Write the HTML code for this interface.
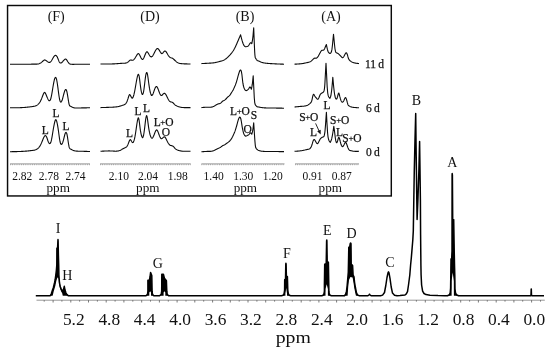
<!DOCTYPE html>
<html><head><meta charset="utf-8"><title>NMR spectrum</title>
<style>html,body{margin:0;padding:0;background:#fff}body{width:550px;height:351px;overflow:hidden}</style>
</head><body>
<svg width="550" height="351" viewBox="0 0 550 351" style="display:block;font-family:'Liberation Serif', 'DejaVu Serif', serif">
<rect width="550" height="351" fill="#fff"/>
<rect x="7.55" y="5.5" width="383.75" height="190.45" fill="none" stroke="#0a0a0a" stroke-width="1.45"/>
<path d="M10.00,64.30 L10.50,64.30 L11.00,64.30 L11.50,64.30 L12.00,64.30 L12.50,64.31 L13.00,64.31 L13.50,64.31 L14.00,64.31 L14.50,64.31 L15.00,64.31 L15.50,64.31 L16.00,64.31 L16.50,64.31 L17.00,64.31 L17.50,64.31 L18.00,64.31 L18.50,64.31 L19.00,64.31 L19.50,64.31 L20.00,64.31 L20.50,64.30 L21.00,64.30 L21.50,64.30 L22.00,64.30 L22.50,64.29 L23.00,64.29 L23.50,64.29 L24.00,64.28 L24.50,64.28 L25.00,64.27 L25.50,64.27 L26.00,64.26 L26.50,64.26 L27.00,64.25 L27.50,64.24 L28.00,64.24 L28.50,64.23 L29.00,64.22 L29.50,64.21 L30.00,64.20 L30.50,64.19 L31.00,64.18 L31.50,64.17 L32.00,64.16 L32.50,64.15 L33.00,64.14 L33.50,64.13 L34.00,64.12 L34.50,64.11 L35.00,64.11 L35.50,64.10 L36.00,64.10 L36.50,64.10 L37.00,64.09 L37.50,64.06 L38.00,64.01 L38.50,63.92 L39.00,63.79 L39.50,63.60 L40.00,63.35 L40.50,63.05 L41.00,62.70 L41.50,62.31 L42.00,61.90 L42.50,61.47 L43.00,61.03 L43.50,60.60 L44.00,60.21 L44.50,59.95 L44.80,59.90 L45.00,59.93 L45.50,60.15 L46.00,60.50 L46.50,60.87 L47.00,61.24 L47.50,61.60 L48.00,61.93 L48.50,62.20 L49.00,62.37 L49.50,62.40 L50.00,62.25 L50.50,61.92 L51.00,61.40 L51.30,61.00 L51.50,60.70 L52.00,59.84 L52.50,58.92 L53.00,58.00 L53.50,57.17 L54.00,56.46 L54.40,56.00 L54.50,55.90 L55.00,55.54 L55.50,55.40 L56.00,55.50 L56.50,55.88 L56.60,56.00 L57.00,56.59 L57.50,57.59 L58.00,58.80 L58.50,60.14 L59.00,61.38 L59.20,61.80 L59.50,62.30 L60.00,62.82 L60.40,63.00 L60.50,63.02 L61.00,62.97 L61.50,62.71 L62.00,62.30 L62.50,61.78 L63.00,61.19 L63.50,60.60 L64.00,60.05 L64.50,59.57 L64.70,59.40 L65.00,59.18 L65.50,59.00 L65.60,59.00 L66.00,59.17 L66.50,59.67 L66.60,59.80 L67.00,60.38 L67.50,61.19 L68.00,62.00 L68.50,62.73 L69.00,63.31 L69.20,63.50 L69.50,63.72 L70.00,63.96 L70.50,64.10 L71.00,64.20 L71.50,64.27 L72.00,64.32 L72.50,64.34 L73.00,64.35 L73.50,64.35 L74.00,64.34 L74.50,64.32 L75.00,64.30 L75.50,64.28 L76.00,64.27 L76.50,64.25 L77.00,64.24 L77.50,64.23 L78.00,64.22 L78.50,64.21 L79.00,64.20 L79.50,64.20 L80.00,64.19 L80.50,64.19 L81.00,64.19 L81.50,64.19 L82.00,64.19 L82.50,64.19 L83.00,64.19 L83.50,64.20 L84.00,64.20 L84.50,64.21 L85.00,64.21 L85.50,64.22 L86.00,64.23 L86.50,64.24 L87.00,64.24 L87.50,64.25 L88.00,64.26 L88.50,64.27 L89.00,64.28 L89.50,64.29 L90.00,64.30" fill="none" stroke="#0c0c0c" stroke-width="1.1" stroke-linejoin="round" stroke-linecap="butt"/>
<path d="M10.00,107.80 L10.50,107.80 L11.00,107.80 L11.50,107.80 L12.00,107.80 L12.50,107.80 L13.00,107.80 L13.50,107.80 L14.00,107.79 L14.50,107.79 L15.00,107.79 L15.50,107.78 L16.00,107.77 L16.50,107.77 L17.00,107.76 L17.50,107.75 L18.00,107.74 L18.50,107.73 L19.00,107.71 L19.50,107.70 L20.00,107.68 L20.50,107.66 L21.00,107.64 L21.50,107.62 L22.00,107.60 L22.50,107.57 L23.00,107.54 L23.50,107.51 L24.00,107.47 L24.50,107.44 L25.00,107.40 L25.50,107.36 L26.00,107.31 L26.50,107.27 L27.00,107.22 L27.50,107.17 L28.00,107.11 L28.50,107.06 L29.00,107.00 L29.50,106.94 L30.00,106.88 L30.50,106.81 L31.00,106.74 L31.50,106.67 L32.00,106.60 L32.50,106.53 L32.70,106.50 L33.00,106.45 L33.50,106.37 L34.00,106.28 L34.50,106.17 L35.00,106.04 L35.50,105.88 L36.00,105.68 L36.50,105.45 L37.00,105.17 L37.50,104.83 L37.80,104.60 L38.00,104.43 L38.50,103.97 L39.00,103.43 L39.50,102.78 L40.00,102.02 L40.50,101.13 L41.00,100.10 L41.50,98.92 L42.00,97.64 L42.50,96.31 L43.00,95.00 L43.50,93.79 L44.00,92.85 L44.50,92.41 L44.60,92.40 L45.00,92.63 L45.50,93.40 L46.00,94.50 L46.50,95.72 L47.00,96.95 L47.50,98.14 L47.80,98.80 L48.00,99.21 L48.50,100.07 L49.00,100.63 L49.40,100.80 L49.50,100.80 L50.00,100.47 L50.50,99.57 L51.00,98.00 L51.50,95.73 L52.00,92.94 L52.50,89.87 L52.80,88.00 L53.00,86.77 L53.50,83.85 L54.00,81.29 L54.30,80.00 L54.50,79.26 L55.00,77.93 L55.50,77.40 L56.00,77.80 L56.50,79.17 L56.70,80.00 L57.00,81.54 L57.50,84.74 L58.00,88.44 L58.20,90.00 L58.50,92.34 L59.00,96.01 L59.50,99.00 L60.00,100.94 L60.50,101.91 L60.60,102.00 L61.00,102.09 L61.50,101.61 L62.00,100.56 L62.20,100.00 L62.50,99.03 L63.00,97.17 L63.50,95.18 L63.80,94.00 L64.00,93.25 L64.50,91.57 L65.00,90.30 L65.50,89.60 L65.80,89.50 L66.00,89.58 L66.50,90.40 L66.70,91.00 L67.00,92.21 L67.50,94.88 L68.00,98.00 L68.50,101.16 L69.00,103.81 L69.20,104.60 L69.50,105.43 L70.00,106.09 L70.50,106.30 L71.00,106.50 L71.50,106.74 L72.00,107.00 L72.40,107.20 L72.50,107.25 L73.00,107.45 L73.50,107.62 L74.00,107.76 L74.50,107.87 L75.00,107.94 L75.50,108.00 L76.00,108.03 L76.50,108.05 L77.00,108.05 L77.50,108.05 L78.00,108.03 L78.50,108.01 L78.80,108.00 L79.00,107.99 L79.50,107.97 L80.00,107.96 L80.50,107.94 L81.00,107.93 L81.50,107.91 L82.00,107.90 L82.50,107.89 L83.00,107.88 L83.50,107.87 L84.00,107.86 L84.50,107.85 L85.00,107.85 L85.50,107.84 L86.00,107.84 L86.50,107.83 L87.00,107.82 L87.50,107.82 L88.00,107.82 L88.50,107.81 L89.00,107.81 L89.50,107.80 L90.00,107.80" fill="none" stroke="#0c0c0c" stroke-width="1.1" stroke-linejoin="round" stroke-linecap="butt"/>
<path d="M10.00,151.70 L10.50,151.69 L11.00,151.69 L11.50,151.68 L12.00,151.67 L12.50,151.67 L13.00,151.66 L13.50,151.65 L14.00,151.64 L14.50,151.63 L15.00,151.62 L15.50,151.61 L16.00,151.60 L16.50,151.59 L17.00,151.58 L17.50,151.56 L18.00,151.55 L18.50,151.53 L19.00,151.52 L19.50,151.50 L20.00,151.48 L20.50,151.46 L21.00,151.44 L21.50,151.41 L22.00,151.39 L22.50,151.36 L23.00,151.33 L23.50,151.30 L24.00,151.27 L24.50,151.24 L25.00,151.20 L25.50,151.16 L26.00,151.12 L26.50,151.08 L27.00,151.04 L27.50,150.99 L28.00,150.94 L28.50,150.89 L29.00,150.84 L29.50,150.79 L30.00,150.73 L30.50,150.67 L31.00,150.61 L31.50,150.55 L32.00,150.49 L32.50,150.43 L32.70,150.40 L33.00,150.36 L33.50,150.29 L34.00,150.20 L34.50,150.10 L35.00,149.97 L35.50,149.81 L36.00,149.62 L36.50,149.38 L37.00,149.09 L37.50,148.74 L37.80,148.50 L38.00,148.33 L38.50,147.84 L39.00,147.28 L39.50,146.62 L40.00,145.87 L40.50,144.99 L41.00,144.00 L41.50,142.88 L42.00,141.68 L42.50,140.44 L43.00,139.21 L43.30,138.50 L43.50,138.04 L44.00,137.01 L44.50,136.19 L45.00,135.70 L45.30,135.60 L45.50,135.63 L46.00,136.01 L46.50,136.82 L46.80,137.50 L47.00,138.03 L47.50,139.50 L48.00,141.00 L48.30,141.80 L48.50,142.26 L49.00,143.13 L49.50,143.56 L49.70,143.60 L50.00,143.52 L50.50,142.93 L51.00,141.70 L51.20,141.00 L51.50,139.72 L52.00,137.10 L52.50,134.10 L53.00,131.00 L53.50,128.02 L54.00,125.30 L54.50,122.92 L54.60,122.50 L55.00,121.01 L55.50,119.83 L55.80,119.60 L56.00,119.69 L56.50,120.66 L57.00,122.50 L57.50,124.95 L58.00,127.90 L58.50,131.28 L58.60,132.00 L59.00,134.97 L59.50,138.56 L60.00,141.50 L60.50,143.36 L61.00,144.26 L61.20,144.40 L61.50,144.42 L62.00,143.98 L62.50,143.02 L62.70,142.50 L63.00,141.59 L63.50,139.81 L64.00,137.82 L64.20,137.00 L64.50,135.77 L65.00,133.97 L65.20,133.40 L65.50,132.79 L66.00,132.40 L66.50,132.85 L66.90,134.00 L67.00,134.42 L67.50,137.17 L68.00,140.50 L68.50,143.75 L69.00,146.41 L69.20,147.20 L69.50,148.04 L70.00,148.74 L70.50,149.00 L71.00,149.23 L71.50,149.50 L72.00,149.79 L72.40,150.00 L72.50,150.05 L73.00,150.28 L73.50,150.48 L74.00,150.64 L74.50,150.77 L75.00,150.89 L75.50,150.97 L76.00,151.04 L76.50,151.09 L77.00,151.13 L77.50,151.16 L78.00,151.18 L78.50,151.19 L78.80,151.20 L79.00,151.21 L79.50,151.22 L80.00,151.23 L80.50,151.24 L81.00,151.26 L81.50,151.27 L82.00,151.28 L82.50,151.30 L83.00,151.31 L83.50,151.32 L84.00,151.34 L84.50,151.35 L85.00,151.36 L85.50,151.38 L86.00,151.39 L86.50,151.41 L87.00,151.42 L87.50,151.43 L88.00,151.45 L88.50,151.46 L89.00,151.47 L89.50,151.49 L90.00,151.50" fill="none" stroke="#0c0c0c" stroke-width="1.1" stroke-linejoin="round" stroke-linecap="butt"/>
<path d="M100.50,64.00 L101.00,64.00 L101.50,64.01 L102.00,64.01 L102.50,64.02 L103.00,64.02 L103.50,64.02 L104.00,64.03 L104.50,64.03 L105.00,64.03 L105.50,64.03 L106.00,64.03 L106.50,64.03 L107.00,64.03 L107.50,64.02 L108.00,64.02 L108.50,64.01 L109.00,64.01 L109.50,64.00 L110.00,63.99 L110.50,63.98 L111.00,63.97 L111.50,63.95 L112.00,63.94 L112.50,63.92 L113.00,63.90 L113.50,63.88 L114.00,63.85 L114.50,63.83 L115.00,63.80 L115.50,63.77 L116.00,63.74 L116.50,63.70 L117.00,63.67 L117.50,63.63 L118.00,63.59 L118.50,63.56 L119.00,63.52 L119.50,63.48 L120.00,63.44 L120.50,63.41 L121.00,63.37 L121.50,63.34 L122.00,63.31 L122.50,63.28 L123.00,63.25 L123.50,63.22 L124.00,63.20 L124.50,63.18 L125.00,63.15 L125.50,63.09 L126.00,63.00 L126.50,62.86 L127.00,62.65 L127.50,62.37 L128.00,62.00 L128.50,61.54 L129.00,61.04 L129.50,60.57 L130.00,60.20 L130.50,60.00 L131.00,60.00 L131.50,60.12 L132.00,60.26 L132.50,60.30 L133.00,60.17 L133.50,59.85 L134.00,59.39 L134.50,58.80 L135.00,58.11 L135.50,57.33 L136.00,56.51 L136.50,55.67 L136.60,55.50 L137.00,54.84 L137.50,54.13 L138.00,53.68 L138.30,53.60 L138.50,53.64 L139.00,54.02 L139.50,54.74 L140.00,55.67 L140.40,56.50 L140.50,56.71 L141.00,57.74 L141.50,58.64 L142.00,59.27 L142.50,59.51 L142.60,59.50 L143.00,59.25 L143.50,58.54 L144.00,57.51 L144.50,56.28 L144.80,55.50 L145.00,54.98 L145.50,53.73 L146.00,52.69 L146.50,51.99 L146.80,51.80 L147.00,51.78 L147.50,52.07 L148.00,52.72 L148.50,53.58 L149.00,54.50 L149.50,55.34 L150.00,56.05 L150.50,56.57 L151.00,56.86 L151.40,56.90 L151.50,56.88 L152.00,56.60 L152.50,56.08 L153.00,55.35 L153.50,54.48 L154.00,53.51 L154.50,52.50 L155.00,51.50 L155.50,50.55 L156.00,49.72 L156.50,49.06 L157.00,48.63 L157.50,48.47 L157.70,48.50 L158.00,48.64 L158.50,49.12 L159.00,49.81 L159.50,50.63 L160.00,51.50 L160.50,52.33 L161.00,53.03 L161.50,53.48 L162.00,53.60 L162.50,53.32 L163.00,52.77 L163.50,52.13 L163.60,52.00 L164.00,51.54 L164.50,51.13 L165.00,51.00 L165.50,51.20 L166.00,51.69 L166.50,52.38 L167.00,53.20 L167.50,54.06 L168.00,54.92 L168.50,55.73 L169.00,56.44 L169.50,57.00 L170.00,57.38 L170.50,57.63 L171.00,57.79 L171.50,57.92 L172.00,58.07 L172.30,58.20 L172.50,58.31 L173.00,58.64 L173.50,59.05 L174.00,59.52 L174.50,60.01 L175.00,60.50 L175.50,60.97 L176.00,61.42 L176.50,61.83 L177.00,62.20 L177.50,62.52 L178.00,62.80 L178.50,63.03 L179.00,63.20 L179.50,63.34 L180.00,63.45 L180.50,63.53 L181.00,63.60 L181.50,63.66 L182.00,63.71 L182.50,63.75 L183.00,63.78 L183.50,63.81 L184.00,63.83 L184.50,63.85 L185.00,63.87 L185.50,63.89 L186.00,63.90 L186.50,63.91 L187.00,63.92 L187.50,63.94 L188.00,63.95 L188.50,63.96 L189.00,63.97 L189.50,63.98 L190.00,63.99 L190.50,64.00" fill="none" stroke="#0c0c0c" stroke-width="1.1" stroke-linejoin="round" stroke-linecap="butt"/>
<path d="M100.50,107.60 L101.00,107.59 L101.50,107.57 L102.00,107.56 L102.50,107.54 L103.00,107.53 L103.50,107.51 L104.00,107.50 L104.50,107.48 L105.00,107.46 L105.50,107.45 L106.00,107.43 L106.50,107.41 L107.00,107.40 L107.50,107.38 L108.00,107.36 L108.50,107.34 L109.00,107.32 L109.50,107.31 L110.00,107.29 L110.50,107.27 L111.00,107.24 L111.50,107.22 L112.00,107.20 L112.50,107.18 L113.00,107.15 L113.50,107.12 L114.00,107.09 L114.50,107.06 L115.00,107.02 L115.50,106.97 L116.00,106.92 L116.50,106.86 L117.00,106.79 L117.50,106.71 L118.00,106.62 L118.50,106.51 L119.00,106.40 L119.50,106.27 L120.00,106.13 L120.50,105.99 L121.00,105.83 L121.50,105.67 L122.00,105.50 L122.50,105.33 L123.00,105.17 L123.50,105.00 L124.00,104.83 L124.50,104.62 L125.00,104.33 L125.50,103.90 L126.00,103.31 L126.50,102.50 L127.00,101.44 L127.50,100.15 L128.00,98.65 L128.20,98.00 L128.50,96.99 L129.00,95.47 L129.50,94.60 L130.00,94.73 L130.50,95.56 L130.80,96.20 L131.00,96.63 L131.50,97.57 L132.00,98.14 L132.30,98.20 L132.50,98.10 L133.00,97.36 L133.50,96.03 L133.80,95.00 L134.00,94.23 L134.50,92.04 L135.00,89.50 L135.50,86.68 L136.00,83.74 L136.30,82.00 L136.50,80.88 L137.00,78.27 L137.40,76.50 L137.50,76.11 L138.00,74.65 L138.30,74.30 L138.50,74.35 L139.00,75.55 L139.20,76.50 L139.50,78.40 L140.00,82.35 L140.20,84.00 L140.50,86.36 L141.00,89.82 L141.30,91.50 L141.50,92.42 L142.00,94.00 L142.50,94.50 L143.00,93.88 L143.50,92.07 L143.70,91.00 L144.00,89.03 L144.50,85.06 L144.80,82.50 L145.00,80.80 L145.50,76.89 L145.80,75.00 L146.00,74.02 L146.50,72.63 L146.70,72.50 L147.00,72.78 L147.50,74.48 L147.60,75.00 L148.00,77.59 L148.50,81.45 L148.70,83.00 L149.00,85.19 L149.50,88.43 L150.00,91.10 L150.20,92.00 L150.50,93.16 L151.00,94.59 L151.50,95.37 L151.90,95.50 L152.00,95.47 L152.50,94.93 L153.00,93.90 L153.50,92.57 L154.00,91.09 L154.20,90.50 L154.50,89.64 L155.00,88.35 L155.50,87.33 L156.00,86.67 L156.50,86.47 L156.60,86.50 L157.00,86.83 L157.50,87.66 L158.00,88.82 L158.50,90.16 L158.80,91.00 L159.00,91.55 L159.50,92.86 L160.00,93.99 L160.50,94.87 L161.00,95.40 L161.20,95.50 L161.50,95.51 L162.00,95.24 L162.50,94.76 L163.00,94.20 L163.50,93.72 L164.00,93.40 L164.50,93.31 L164.80,93.40 L165.00,93.53 L165.50,94.06 L166.00,94.83 L166.50,95.77 L167.00,96.79 L167.20,97.20 L167.50,97.81 L168.00,98.80 L168.50,99.70 L169.00,100.50 L169.50,101.14 L170.00,101.60 L170.50,101.86 L171.00,101.99 L171.50,102.07 L172.00,102.18 L172.30,102.30 L172.50,102.41 L173.00,102.78 L173.50,103.25 L174.00,103.77 L174.50,104.30 L175.00,104.80 L175.50,105.22 L176.00,105.57 L176.50,105.87 L177.00,106.11 L177.50,106.32 L178.00,106.50 L178.50,106.67 L179.00,106.82 L179.50,106.97 L180.00,107.09 L180.50,107.20 L181.00,107.30 L181.50,107.38 L182.00,107.44 L182.50,107.49 L183.00,107.53 L183.50,107.56 L184.00,107.58 L184.50,107.59 L185.00,107.60 L185.50,107.60 L186.00,107.60 L186.50,107.60 L187.00,107.60 L187.50,107.60 L188.00,107.60 L188.50,107.60 L189.00,107.60 L189.50,107.60 L190.00,107.60 L190.50,107.60" fill="none" stroke="#0c0c0c" stroke-width="1.1" stroke-linejoin="round" stroke-linecap="butt"/>
<path d="M100.50,151.30 L101.00,151.27 L101.50,151.23 L102.00,151.20 L102.50,151.17 L103.00,151.14 L103.50,151.11 L104.00,151.08 L104.50,151.05 L105.00,151.02 L105.50,151.00 L106.00,150.98 L106.50,150.96 L107.00,150.95 L107.50,150.93 L108.00,150.93 L108.50,150.92 L109.00,150.92 L109.50,150.92 L110.00,150.93 L110.50,150.94 L111.00,150.95 L111.50,150.97 L112.00,151.00 L112.50,151.03 L113.00,151.06 L113.50,151.10 L114.00,151.13 L114.50,151.16 L115.00,151.18 L115.50,151.19 L116.00,151.18 L116.50,151.16 L117.00,151.13 L117.50,151.07 L118.00,150.99 L118.50,150.89 L119.00,150.76 L119.50,150.60 L120.00,150.40 L120.50,150.17 L121.00,149.91 L121.50,149.64 L122.00,149.35 L122.50,149.05 L123.00,148.76 L123.50,148.48 L124.00,148.22 L124.50,147.99 L124.70,147.90 L125.00,147.78 L125.50,147.58 L126.00,147.31 L126.50,146.91 L127.00,146.33 L127.50,145.50 L128.00,144.39 L128.50,143.09 L128.90,142.00 L129.00,141.73 L129.50,140.50 L130.00,139.72 L130.20,139.60 L130.50,139.67 L131.00,140.29 L131.40,141.00 L131.50,141.18 L132.00,142.01 L132.50,142.54 L132.90,142.60 L133.00,142.55 L133.50,141.91 L134.00,140.63 L134.40,139.20 L134.50,138.79 L135.00,136.40 L135.50,133.50 L136.00,130.14 L136.50,126.60 L137.00,123.22 L137.50,120.30 L138.00,118.26 L138.30,117.80 L138.50,117.93 L139.00,119.71 L139.10,120.30 L139.50,123.25 L140.00,127.42 L140.10,128.20 L140.50,130.91 L141.00,133.53 L141.30,134.80 L141.50,135.55 L142.00,137.01 L142.50,137.64 L142.70,137.60 L143.00,137.18 L143.50,135.53 L143.80,134.00 L144.00,132.77 L144.50,129.09 L144.80,126.60 L145.00,124.87 L145.50,120.67 L145.80,118.50 L146.00,117.31 L146.50,115.65 L146.60,115.60 L147.00,116.43 L147.40,118.50 L147.50,119.15 L148.00,122.82 L148.50,126.60 L149.00,129.82 L149.50,132.42 L150.00,134.50 L150.50,136.12 L151.00,137.29 L151.50,137.99 L152.00,138.21 L152.10,138.20 L152.50,137.95 L153.00,137.27 L153.50,136.27 L154.00,135.06 L154.40,134.00 L154.50,133.73 L155.00,132.41 L155.50,131.23 L156.00,130.35 L156.50,129.92 L156.70,129.90 L157.00,130.06 L157.50,130.76 L158.00,131.85 L158.50,133.17 L158.80,134.00 L159.00,134.55 L159.50,135.88 L160.00,137.05 L160.50,137.96 L161.00,138.53 L161.10,138.60 L161.50,138.69 L162.00,138.50 L162.50,138.09 L163.00,137.60 L163.50,137.15 L164.00,136.86 L164.50,136.82 L164.70,136.90 L165.00,137.14 L165.50,137.80 L166.00,138.70 L166.50,139.74 L167.00,140.80 L167.50,141.80 L168.00,142.72 L168.50,143.53 L169.00,144.22 L169.50,144.77 L170.00,145.18 L170.20,145.30 L170.50,145.43 L171.00,145.56 L171.50,145.63 L172.00,145.72 L172.50,145.90 L173.00,146.23 L173.50,146.67 L174.00,147.20 L174.50,147.76 L175.00,148.31 L175.50,148.81 L175.60,148.90 L176.00,149.22 L176.50,149.55 L177.00,149.81 L177.50,150.02 L178.00,150.20 L178.50,150.37 L179.00,150.52 L179.50,150.66 L180.00,150.79 L180.50,150.90 L181.00,151.00 L181.50,151.08 L182.00,151.14 L182.50,151.19 L183.00,151.23 L183.50,151.26 L184.00,151.28 L184.50,151.29 L185.00,151.30 L185.50,151.30 L186.00,151.30 L186.50,151.30 L187.00,151.30 L187.50,151.30 L188.00,151.30 L188.50,151.30 L189.00,151.30 L189.50,151.30 L190.00,151.30 L190.50,151.30" fill="none" stroke="#0c0c0c" stroke-width="1.1" stroke-linejoin="round" stroke-linecap="butt"/>
<path d="M201.40,63.60 L201.90,63.57 L202.41,63.55 L202.91,63.52 L203.41,63.50 L203.91,63.47 L204.42,63.45 L204.92,63.42 L205.42,63.40 L205.92,63.37 L206.43,63.34 L206.93,63.32 L207.43,63.29 L207.93,63.26 L208.44,63.23 L208.94,63.20 L209.00,63.20 L209.44,63.17 L209.94,63.14 L210.45,63.11 L210.95,63.08 L211.45,63.04 L211.95,62.99 L212.46,62.95 L212.96,62.89 L213.46,62.83 L213.96,62.77 L214.47,62.69 L214.97,62.61 L215.00,62.60 L215.47,62.51 L215.97,62.41 L216.48,62.30 L216.98,62.18 L217.48,62.06 L217.98,61.93 L218.49,61.80 L218.99,61.67 L219.49,61.54 L219.99,61.40 L220.00,61.40 L220.50,61.27 L221.00,61.13 L221.50,60.98 L222.01,60.82 L222.51,60.65 L223.01,60.46 L223.51,60.24 L224.00,60.00 L224.02,59.99 L224.52,59.71 L225.02,59.40 L225.52,59.06 L226.03,58.70 L226.53,58.30 L227.03,57.88 L227.53,57.43 L228.04,56.97 L228.54,56.48 L229.04,55.97 L229.20,55.80 L229.54,55.44 L230.05,54.89 L230.55,54.31 L231.05,53.71 L231.55,53.09 L232.00,52.50 L232.06,52.42 L232.56,51.73 L233.06,50.98 L233.56,50.19 L234.07,49.35 L234.57,48.44 L234.90,47.80 L235.07,47.46 L235.57,46.41 L236.08,45.31 L236.58,44.17 L237.00,43.20 L237.08,43.01 L237.58,41.84 L238.09,40.67 L238.59,39.49 L238.80,39.00 L239.09,38.32 L239.59,37.14 L240.10,35.97 L240.60,34.80 L241.11,36.88 L241.60,38.80 L241.62,38.87 L242.13,40.69 L242.64,42.32 L242.80,42.80 L243.15,43.73 L243.65,44.88 L244.00,45.50 L244.16,45.74 L244.67,46.29 L245.18,46.59 L245.20,46.60 L245.69,46.71 L246.20,46.69 L246.71,46.58 L247.00,46.50 L247.22,46.44 L247.73,46.24 L248.24,45.92 L248.75,45.37 L248.80,45.30 L249.25,44.57 L249.76,43.70 L250.27,43.02 L250.60,42.80 L250.78,42.78 L251.29,43.06 L251.80,43.60 L252.43,40.37 L252.70,38.50 L253.07,35.29 L253.70,27.80 L254.10,38.00 L254.20,40.73 L254.50,48.00 L254.71,52.21 L254.90,55.00 L255.21,57.39 L255.60,58.20 L255.72,58.36 L256.22,59.20 L256.60,59.80 L256.73,59.97 L257.24,60.43 L257.74,60.70 L258.00,60.80 L258.25,60.90 L258.75,61.10 L259.25,61.31 L259.76,61.53 L260.26,61.74 L260.77,61.95 L261.27,62.14 L261.78,62.33 L262.00,62.40 L262.28,62.49 L262.79,62.64 L263.30,62.76 L263.80,62.88 L264.31,62.97 L264.81,63.06 L265.31,63.13 L265.82,63.20 L266.32,63.25 L266.83,63.30 L267.33,63.35 L267.84,63.39 L268.00,63.40 L268.34,63.43 L268.85,63.47 L269.36,63.50 L269.86,63.54 L270.37,63.58 L270.87,63.61 L271.38,63.64 L271.88,63.67 L272.38,63.71 L272.89,63.74 L273.39,63.77 L273.90,63.79 L274.40,63.82 L274.91,63.85 L275.42,63.87 L275.92,63.90 L276.00,63.90 L276.43,63.92 L276.93,63.94 L277.44,63.96 L277.94,63.98 L278.44,64.01 L278.95,64.03 L279.45,64.04 L279.96,64.06 L280.46,64.08 L280.97,64.10 L281.48,64.12 L281.98,64.13 L282.49,64.15 L282.99,64.17 L283.50,64.18 L284.00,64.20" fill="none" stroke="#0c0c0c" stroke-width="1.1" stroke-linejoin="round" stroke-linecap="butt"/>
<path d="M201.40,107.60 L201.90,107.55 L202.40,107.51 L202.90,107.46 L203.40,107.42 L203.90,107.38 L204.40,107.34 L204.90,107.31 L205.40,107.28 L205.90,107.25 L206.40,107.23 L206.90,107.21 L207.40,107.20 L207.90,107.20 L208.00,107.20 L208.40,107.20 L208.90,107.21 L209.40,107.21 L209.90,107.21 L210.40,107.19 L210.90,107.15 L211.40,107.09 L211.90,107.00 L212.40,106.88 L212.90,106.72 L213.20,106.60 L213.40,106.51 L213.90,106.26 L214.40,105.98 L214.90,105.68 L215.40,105.37 L215.90,105.06 L216.00,105.00 L216.40,104.77 L216.90,104.49 L217.40,104.25 L217.90,104.04 L218.40,103.86 L218.60,103.80 L218.90,103.72 L219.40,103.60 L219.90,103.46 L220.40,103.23 L220.90,102.89 L221.00,102.80 L221.40,102.39 L221.90,101.82 L222.40,101.29 L222.50,101.20 L222.90,100.91 L223.40,100.66 L223.90,100.45 L224.00,100.40 L224.40,100.19 L224.90,99.86 L225.40,99.47 L225.90,99.02 L226.40,98.51 L226.50,98.40 L226.90,97.95 L227.40,97.39 L227.90,96.89 L228.00,96.80 L228.40,96.49 L228.90,96.13 L229.40,95.70 L229.50,95.60 L229.90,95.12 L230.40,94.41 L230.90,93.61 L231.40,92.80 L231.90,92.02 L232.40,91.23 L232.90,90.38 L233.00,90.20 L233.40,89.42 L233.90,88.37 L234.40,87.25 L234.60,86.80 L234.90,86.11 L235.40,84.92 L235.90,83.59 L236.00,83.30 L236.40,82.06 L236.90,80.37 L237.40,78.57 L237.80,77.10 L237.90,76.73 L238.40,74.93 L238.90,73.23 L239.20,72.30 L239.40,71.73 L239.90,70.57 L240.00,70.40 L240.40,70.00 L240.60,70.00 L240.90,70.31 L241.20,71.00 L241.40,71.69 L241.90,74.50 L242.40,78.98 L242.80,82.50 L242.90,83.21 L243.40,85.77 L243.60,86.50 L243.90,87.47 L244.40,88.80 L244.90,89.74 L245.40,90.31 L245.90,90.58 L246.00,90.60 L246.40,90.58 L246.90,90.39 L247.40,90.07 L247.50,90.00 L247.90,89.69 L248.40,89.18 L248.80,88.60 L248.90,88.42 L249.40,87.51 L249.90,87.00 L250.40,87.33 L250.80,88.00 L250.90,88.19 L251.40,89.20 L252.00,86.19 L252.30,84.20 L252.60,81.82 L253.20,75.70 L253.60,84.00 L253.70,86.08 L253.90,90.00 L254.21,96.40 L254.30,98.00 L254.70,102.50 L254.71,102.60 L255.22,104.70 L255.60,105.20 L255.72,105.33 L256.23,105.92 L256.60,106.30 L256.73,106.41 L257.24,106.70 L257.74,106.85 L258.00,106.90 L258.25,106.95 L258.75,107.05 L259.26,107.15 L259.76,107.24 L260.27,107.33 L260.77,107.42 L261.28,107.50 L261.78,107.57 L262.00,107.60 L262.29,107.64 L262.79,107.70 L263.30,107.75 L263.80,107.79 L264.31,107.83 L264.81,107.86 L265.32,107.89 L265.82,107.91 L266.33,107.93 L266.83,107.95 L267.34,107.96 L267.84,107.97 L268.35,107.98 L268.85,107.99 L269.36,107.99 L269.86,108.00 L270.00,108.00 L270.37,108.00 L270.87,108.01 L271.38,108.02 L271.88,108.02 L272.39,108.03 L272.89,108.03 L273.40,108.04 L273.90,108.05 L274.41,108.05 L274.91,108.06 L275.42,108.07 L275.92,108.07 L276.43,108.08 L276.93,108.09 L277.44,108.10 L277.94,108.10 L278.45,108.11 L278.95,108.12 L279.46,108.13 L279.96,108.14 L280.47,108.14 L280.97,108.15 L281.48,108.16 L281.98,108.17 L282.49,108.18 L282.99,108.18 L283.50,108.19 L284.00,108.20" fill="none" stroke="#0c0c0c" stroke-width="1.1" stroke-linejoin="round" stroke-linecap="butt"/>
<path d="M201.40,151.80 L201.90,151.76 L202.41,151.72 L202.91,151.67 L203.42,151.63 L203.92,151.60 L204.42,151.56 L204.93,151.53 L205.43,151.49 L205.94,151.47 L206.44,151.44 L206.94,151.42 L207.45,151.41 L207.95,151.40 L208.00,151.40 L208.46,151.40 L208.96,151.39 L209.46,151.39 L209.97,151.37 L210.47,151.35 L210.98,151.30 L211.48,151.24 L211.98,151.15 L212.49,151.03 L212.99,150.88 L213.20,150.80 L213.50,150.68 L214.00,150.45 L214.50,150.20 L215.01,149.93 L215.51,149.66 L216.00,149.40 L216.02,149.39 L216.52,149.14 L217.02,148.90 L217.53,148.67 L218.03,148.45 L218.54,148.23 L218.60,148.20 L219.04,148.00 L219.54,147.76 L220.05,147.50 L220.55,147.20 L221.00,146.90 L221.06,146.86 L221.56,146.47 L222.06,146.08 L222.57,145.73 L222.80,145.60 L223.07,145.47 L223.58,145.28 L224.08,145.09 L224.50,144.90 L224.58,144.85 L225.09,144.53 L225.59,144.14 L226.10,143.74 L226.40,143.50 L226.60,143.35 L227.10,143.01 L227.61,142.67 L228.00,142.40 L228.11,142.32 L228.62,141.93 L229.12,141.50 L229.62,141.01 L230.00,140.60 L230.13,140.45 L230.63,139.83 L231.14,139.14 L231.50,138.60 L231.64,138.38 L232.14,137.54 L232.65,136.61 L232.80,136.30 L233.15,135.55 L233.66,134.40 L234.00,133.60 L234.16,133.23 L234.66,132.02 L234.90,131.40 L235.17,130.64 L235.67,129.07 L236.00,128.00 L236.18,127.42 L236.68,125.72 L237.10,124.20 L237.18,123.88 L237.69,121.94 L238.00,120.80 L238.19,120.16 L238.70,118.75 L238.80,118.50 L239.20,117.70 L239.40,117.40 L239.70,117.12 L239.90,117.10 L240.21,117.37 L240.40,117.70 L240.71,118.51 L240.90,119.20 L241.22,120.77 L241.50,122.50 L241.72,123.95 L242.10,126.40 L242.22,127.12 L242.73,129.67 L242.80,130.00 L243.23,131.83 L243.50,132.80 L243.74,133.52 L244.24,134.69 L244.30,134.80 L244.74,135.49 L245.25,135.97 L245.30,136.00 L245.75,136.12 L246.26,136.02 L246.76,135.82 L246.80,135.80 L247.26,135.60 L247.77,135.36 L248.27,135.07 L248.50,134.90 L248.78,134.66 L249.28,134.11 L249.50,133.80 L249.78,133.36 L250.29,132.80 L250.30,132.80 L250.79,132.98 L251.00,133.20 L251.30,133.55 L251.80,134.20 L252.43,131.93 L252.70,130.60 L253.07,128.28 L253.70,122.80 L254.10,129.00 L254.20,130.57 L254.50,135.00 L254.71,138.25 L254.90,141.00 L255.21,144.57 L255.30,145.30 L255.72,147.58 L256.22,148.53 L256.30,148.60 L256.73,149.02 L257.24,149.50 L257.60,149.80 L257.74,149.90 L258.25,150.21 L258.75,150.44 L259.20,150.60 L259.25,150.62 L259.76,150.77 L260.26,150.90 L260.77,151.00 L261.27,151.09 L261.78,151.17 L262.00,151.20 L262.28,151.24 L262.79,151.29 L263.30,151.34 L263.80,151.37 L264.31,151.41 L264.81,151.43 L265.31,151.45 L265.82,151.47 L266.32,151.48 L266.83,151.49 L267.33,151.49 L267.84,151.50 L268.00,151.50 L268.34,151.50 L268.85,151.51 L269.36,151.51 L269.86,151.52 L270.37,151.52 L270.87,151.53 L271.38,151.53 L271.88,151.53 L272.38,151.54 L272.89,151.54 L273.39,151.54 L273.90,151.55 L274.40,151.55 L274.91,151.55 L275.42,151.56 L275.92,151.56 L276.43,151.56 L276.93,151.57 L277.44,151.57 L277.94,151.57 L278.44,151.57 L278.95,151.58 L279.45,151.58 L279.96,151.58 L280.46,151.58 L280.97,151.59 L281.48,151.59 L281.98,151.59 L282.49,151.59 L282.99,151.60 L283.50,151.60 L284.00,151.60" fill="none" stroke="#0c0c0c" stroke-width="1.1" stroke-linejoin="round" stroke-linecap="butt"/>
<path d="M294.50,64.20 L295.01,64.17 L295.51,64.15 L296.02,64.12 L296.53,64.10 L297.03,64.07 L297.54,64.03 L298.04,64.00 L298.55,63.96 L299.06,63.92 L299.56,63.88 L300.07,63.83 L300.58,63.78 L301.08,63.72 L301.59,63.66 L302.00,63.60 L302.10,63.59 L302.60,63.51 L303.11,63.43 L303.61,63.34 L304.12,63.25 L304.63,63.15 L305.13,63.05 L305.64,62.94 L306.15,62.83 L306.65,62.72 L307.16,62.60 L307.67,62.48 L308.00,62.40 L308.17,62.36 L308.68,62.23 L309.18,62.08 L309.69,61.90 L310.20,61.67 L310.70,61.39 L311.00,61.20 L311.21,61.05 L311.72,60.64 L312.22,60.17 L312.73,59.68 L313.00,59.40 L313.23,59.16 L313.74,58.68 L314.25,58.31 L314.50,58.20 L314.75,58.15 L315.26,58.16 L315.77,58.20 L316.00,58.20 L316.27,58.15 L316.78,57.93 L317.29,57.51 L317.30,57.50 L317.79,56.90 L318.30,56.14 L318.50,55.80 L318.80,55.27 L319.31,54.33 L319.82,53.36 L320.00,53.00 L320.32,52.38 L320.83,51.47 L321.34,50.77 L321.40,50.70 L321.84,50.36 L322.35,50.21 L322.60,50.20 L322.86,50.22 L323.36,50.21 L323.60,50.10 L323.87,49.86 L324.37,49.09 L324.80,48.20 L324.88,48.01 L325.39,46.76 L325.70,46.00 L325.89,45.56 L326.40,44.50 L326.91,47.05 L327.00,47.50 L327.41,49.39 L327.80,50.80 L327.92,51.14 L328.43,52.13 L328.80,52.60 L328.94,52.76 L329.44,53.27 L329.90,53.50 L329.95,53.51 L330.46,53.31 L330.96,52.66 L331.20,52.20 L331.47,51.51 L331.98,49.15 L332.00,49.00 L332.49,44.71 L332.70,42.50 L332.99,39.45 L333.50,34.20 L334.00,39.38 L334.30,42.50 L334.50,44.56 L335.00,49.00 L335.50,51.47 L335.80,52.20 L336.00,52.51 L336.50,52.88 L337.00,53.00 L337.50,53.20 L338.00,53.52 L338.50,53.90 L339.00,54.32 L339.50,54.79 L340.00,55.30 L340.50,55.86 L341.00,56.44 L341.50,57.00 L342.00,57.47 L342.50,57.71 L342.70,57.70 L343.00,57.55 L343.50,57.00 L344.00,56.20 L344.50,55.28 L345.00,54.34 L345.30,53.80 L345.50,53.47 L346.00,52.88 L346.30,52.80 L346.50,52.90 L347.00,53.70 L347.30,54.50 L347.50,55.15 L348.00,56.97 L348.40,58.30 L348.50,58.58 L349.00,59.64 L349.50,60.28 L350.00,60.70 L350.50,61.07 L351.00,61.41 L351.50,61.72 L352.00,62.00 L352.50,62.24 L353.00,62.44 L353.50,62.62 L354.00,62.76 L354.50,62.89 L355.00,63.00 L355.50,63.10 L356.00,63.19 L356.50,63.27 L357.00,63.34 L357.50,63.41 L358.00,63.48 L358.50,63.54 L359.00,63.60" fill="none" stroke="#0c0c0c" stroke-width="1.1" stroke-linejoin="round" stroke-linecap="butt"/>
<path d="M294.50,107.00 L295.00,106.95 L295.50,106.89 L296.00,106.84 L296.50,106.79 L297.00,106.74 L297.50,106.69 L298.00,106.64 L298.50,106.59 L299.00,106.55 L299.50,106.50 L300.00,106.46 L300.50,106.41 L301.00,106.37 L301.50,106.34 L302.00,106.30 L302.50,106.27 L303.00,106.23 L303.50,106.19 L304.00,106.14 L304.50,106.07 L305.00,105.99 L305.50,105.89 L306.00,105.76 L306.50,105.61 L307.00,105.42 L307.50,105.19 L308.00,104.92 L308.20,104.80 L308.50,104.61 L309.00,104.25 L309.50,103.86 L310.00,103.44 L310.50,103.00 L311.00,102.48 L311.50,101.53 L311.80,100.60 L312.00,99.79 L312.50,97.42 L312.70,96.50 L313.00,95.34 L313.50,94.30 L314.00,94.61 L314.50,95.60 L314.60,95.80 L315.00,96.46 L315.50,97.06 L316.00,97.57 L316.20,97.80 L316.50,98.18 L317.00,98.81 L317.50,99.23 L318.00,99.20 L318.50,98.56 L319.00,97.49 L319.20,97.00 L319.50,96.25 L320.00,95.06 L320.40,94.30 L320.50,94.15 L321.00,93.60 L321.50,93.26 L321.60,93.20 L322.00,92.95 L322.50,92.65 L322.80,92.50 L323.00,92.42 L323.50,92.04 L324.00,90.96 L324.10,90.60 L324.50,88.33 L324.80,85.00 L325.00,81.72 L325.30,76.00 L325.50,72.24 L326.00,63.30 L326.56,74.06 L326.70,77.00 L327.11,85.50 L327.20,87.00 L327.67,92.56 L327.80,93.50 L328.23,95.64 L328.79,96.98 L328.80,97.00 L329.34,97.73 L329.90,98.30 L330.48,97.01 L331.00,95.00 L331.06,94.68 L331.64,90.50 L331.90,88.00 L332.22,84.44 L332.80,77.20 L333.30,82.86 L333.60,86.00 L333.81,88.05 L334.31,92.36 L334.40,93.00 L334.82,95.49 L335.30,97.50 L335.32,97.56 L335.82,98.80 L336.30,99.20 L336.33,99.20 L336.83,98.73 L337.33,97.46 L337.60,96.50 L337.84,95.50 L338.34,93.57 L338.70,93.00 L338.85,93.09 L339.35,94.53 L339.80,96.50 L339.85,96.73 L340.36,98.65 L340.86,100.16 L341.00,100.50 L341.37,101.26 L341.87,101.96 L342.30,102.20 L342.37,102.21 L342.88,102.00 L343.38,101.39 L343.88,100.45 L344.00,100.20 L344.39,99.28 L344.89,98.19 L345.40,97.60 L345.60,97.60 L345.90,97.91 L346.40,99.12 L346.80,100.50 L346.91,100.92 L347.41,102.90 L347.80,104.20 L347.92,104.50 L348.42,105.41 L348.92,105.85 L349.20,106.00 L349.43,106.12 L349.93,106.39 L350.43,106.64 L350.80,106.80 L350.94,106.85 L351.44,107.02 L351.95,107.15 L352.45,107.25 L352.95,107.32 L353.46,107.38 L353.60,107.40 L353.96,107.44 L354.47,107.49 L354.97,107.53 L355.47,107.57 L355.98,107.61 L356.48,107.65 L356.98,107.68 L357.49,107.71 L357.99,107.74 L358.50,107.77 L359.00,107.80" fill="none" stroke="#0c0c0c" stroke-width="1.1" stroke-linejoin="round" stroke-linecap="butt"/>
<path d="M294.50,151.30 L295.01,151.27 L295.51,151.25 L296.02,151.22 L296.53,151.19 L297.03,151.16 L297.54,151.12 L298.04,151.08 L298.55,151.04 L299.06,150.99 L299.56,150.94 L300.07,150.88 L300.58,150.82 L301.08,150.75 L301.59,150.67 L302.00,150.60 L302.10,150.58 L302.60,150.49 L303.11,150.39 L303.61,150.28 L304.12,150.17 L304.63,150.06 L305.13,149.94 L305.64,149.83 L306.15,149.72 L306.65,149.61 L307.16,149.50 L307.67,149.40 L308.17,149.31 L308.20,149.30 L308.68,149.21 L309.18,149.07 L309.69,148.81 L310.20,148.37 L310.70,147.70 L310.70,147.69 L311.21,146.73 L311.72,145.47 L312.20,144.00 L312.22,143.93 L312.73,142.19 L313.23,140.66 L313.30,140.50 L313.74,139.73 L314.20,139.50 L314.25,139.51 L314.75,139.92 L315.26,140.74 L315.40,141.00 L315.77,141.70 L316.27,142.61 L316.78,143.31 L317.29,143.65 L317.60,143.60 L317.79,143.46 L318.30,142.74 L318.80,141.72 L319.00,141.30 L319.31,140.63 L319.82,139.63 L320.20,139.00 L320.32,138.83 L320.83,138.29 L321.34,137.91 L321.50,137.80 L321.84,137.57 L322.35,137.27 L322.86,137.04 L323.00,137.00 L323.36,136.91 L323.87,136.47 L324.30,135.40 L324.37,135.12 L324.88,132.08 L325.00,131.00 L325.39,126.49 L325.50,125.00 L325.89,119.57 L326.40,112.30 L326.96,122.99 L327.10,125.50 L327.51,131.80 L327.70,134.00 L328.07,137.11 L328.60,139.50 L328.63,139.59 L329.19,140.96 L329.74,141.77 L330.30,142.30 L330.80,141.27 L331.30,139.99 L331.60,139.00 L331.80,138.22 L332.30,135.85 L332.80,133.00 L333.30,129.79 L333.80,126.40 L334.30,129.78 L334.60,132.00 L334.81,133.72 L335.31,137.86 L335.40,138.50 L335.82,140.90 L336.32,142.48 L336.50,142.70 L336.82,142.67 L337.33,141.72 L337.70,140.50 L337.83,139.99 L338.34,138.10 L338.80,137.20 L338.84,137.19 L339.34,137.99 L339.85,139.87 L340.00,140.50 L340.35,141.93 L340.86,143.76 L341.20,144.80 L341.36,145.21 L341.86,146.19 L342.30,146.60 L342.37,146.63 L342.87,146.51 L343.38,145.95 L343.88,145.05 L344.00,144.80 L344.38,143.95 L344.89,142.93 L345.39,142.34 L345.60,142.30 L345.90,142.50 L346.40,143.39 L346.90,144.72 L347.00,145.00 L347.41,146.20 L347.91,147.63 L348.42,148.84 L348.60,149.20 L348.92,149.70 L349.42,150.20 L349.93,150.45 L350.43,150.59 L350.50,150.60 L350.94,150.69 L351.44,150.80 L351.94,150.91 L352.45,151.01 L352.95,151.10 L353.46,151.18 L353.60,151.20 L353.96,151.24 L354.46,151.29 L354.97,151.33 L355.47,151.35 L355.98,151.36 L356.48,151.37 L356.98,151.36 L357.49,151.35 L357.99,151.34 L358.50,151.32 L359.00,151.30" fill="none" stroke="#0c0c0c" stroke-width="1.1" stroke-linejoin="round" stroke-linecap="butt"/>
<line x1="10" y1="163.9" x2="90" y2="163.9" stroke="#7a7a7a" stroke-width="0.8"/>
<line x1="10" y1="164.7" x2="90" y2="164.7" stroke="#8a8a8a" stroke-width="0.9" stroke-dasharray="0.8 1.4"/>
<line x1="100" y1="163.9" x2="190.8" y2="163.9" stroke="#7a7a7a" stroke-width="0.8"/>
<line x1="100" y1="164.7" x2="190.8" y2="164.7" stroke="#8a8a8a" stroke-width="0.9" stroke-dasharray="0.8 1.4"/>
<line x1="201.4" y1="163.9" x2="284.5" y2="163.9" stroke="#7a7a7a" stroke-width="0.8"/>
<line x1="201.4" y1="164.7" x2="284.5" y2="164.7" stroke="#8a8a8a" stroke-width="0.9" stroke-dasharray="0.8 1.4"/>
<line x1="295" y1="163.9" x2="359" y2="163.9" stroke="#7a7a7a" stroke-width="0.8"/>
<line x1="295" y1="164.7" x2="359" y2="164.7" stroke="#8a8a8a" stroke-width="0.9" stroke-dasharray="0.8 1.4"/>
<text x="56.2" y="20.8" font-size="14" text-anchor="middle" fill="#111" >(F)</text>
<text x="150" y="20.8" font-size="14" text-anchor="middle" fill="#111" >(D)</text>
<text x="245" y="20.8" font-size="14" text-anchor="middle" fill="#111" >(B)</text>
<text x="331" y="20.8" font-size="14" text-anchor="middle" fill="#111" >(A)</text>
<text x="22.2" y="179.6" font-size="11.5" text-anchor="middle" fill="#111" >2.82</text>
<text x="48.9" y="179.6" font-size="11.5" text-anchor="middle" fill="#111" >2.78</text>
<text x="75.5" y="179.6" font-size="11.5" text-anchor="middle" fill="#111" >2.74</text>
<text x="118.9" y="179.6" font-size="11.5" text-anchor="middle" fill="#111" >2.10</text>
<text x="148" y="179.6" font-size="11.5" text-anchor="middle" fill="#111" >2.04</text>
<text x="177.7" y="179.6" font-size="11.5" text-anchor="middle" fill="#111" >1.98</text>
<text x="213.6" y="179.6" font-size="11.5" text-anchor="middle" fill="#111" >1.40</text>
<text x="243.3" y="179.6" font-size="11.5" text-anchor="middle" fill="#111" >1.30</text>
<text x="272.8" y="179.6" font-size="11.5" text-anchor="middle" fill="#111" >1.20</text>
<text x="312.5" y="179.6" font-size="11.5" text-anchor="middle" fill="#111" >0.91</text>
<text x="341.8" y="179.6" font-size="11.5" text-anchor="middle" fill="#111" >0.87</text>
<text x="58.2" y="191.6" font-size="11.5" text-anchor="middle" fill="#111" textLength="23.4" lengthAdjust="spacingAndGlyphs">ppm</text>
<text x="147.8" y="191.6" font-size="11.5" text-anchor="middle" fill="#111" textLength="23.4" lengthAdjust="spacingAndGlyphs">ppm</text>
<text x="245.4" y="191.6" font-size="11.5" text-anchor="middle" fill="#111" textLength="23.4" lengthAdjust="spacingAndGlyphs">ppm</text>
<text x="330.3" y="191.6" font-size="11.5" text-anchor="middle" fill="#111" textLength="23.4" lengthAdjust="spacingAndGlyphs">ppm</text>
<text x="365.0" y="67.7" font-size="11.5" text-anchor="start" fill="#111" word-spacing="-0.8" stroke="#111" stroke-width="0.25">11 d</text>
<text x="365.9" y="111.5" font-size="11.5" text-anchor="start" fill="#111" word-spacing="-0.4" stroke="#111" stroke-width="0.25">6 d</text>
<text x="365.9" y="155.8" font-size="11.5" text-anchor="start" fill="#111" word-spacing="-0.4" stroke="#111" stroke-width="0.25">0 d</text>
<text x="45.2" y="133.5" font-size="11.5" text-anchor="middle" fill="#111" stroke="#111" stroke-width="0.25">L</text>
<text x="56.1" y="117.1" font-size="11.5" text-anchor="middle" fill="#111" stroke="#111" stroke-width="0.25">L</text>
<text x="66" y="130.3" font-size="11.5" text-anchor="middle" fill="#111" stroke="#111" stroke-width="0.25">L</text>
<text x="129.4" y="137.0" font-size="11.5" text-anchor="middle" fill="#111" stroke="#111" stroke-width="0.25">L</text>
<text x="138" y="114.7" font-size="11.5" text-anchor="middle" fill="#111" stroke="#111" stroke-width="0.25">L</text>
<text x="146.6" y="112.4" font-size="11.5" text-anchor="middle" fill="#111" stroke="#111" stroke-width="0.25">L</text>
<text x="163.4" y="126.1" font-size="11.5" text-anchor="middle" fill="#111" letter-spacing="-0.3" stroke="#111" stroke-width="0.25">L<tspan font-size="9" dy="-0.9">+</tspan><tspan dy="0.9">O</tspan></text>
<text x="165.9" y="135.5" font-size="11.5" text-anchor="middle" fill="#111" stroke="#111" stroke-width="0.25">O</text>
<text x="239.8" y="114.5" font-size="11.5" text-anchor="middle" fill="#111" letter-spacing="-0.3" stroke="#111" stroke-width="0.25">L<tspan font-size="9" dy="-0.9">+</tspan><tspan dy="0.9">O</tspan></text>
<text x="253.9" y="119.3" font-size="11.5" text-anchor="middle" fill="#111" stroke="#111" stroke-width="0.25">S</text>
<text x="247.7" y="132.5" font-size="11.5" text-anchor="middle" fill="#111" stroke="#111" stroke-width="0.25">O</text>
<text x="326.9" y="108.7" font-size="11.5" text-anchor="middle" fill="#111" stroke="#111" stroke-width="0.25">L</text>
<text x="308.6" y="120.7" font-size="11.5" text-anchor="middle" fill="#111" letter-spacing="-0.3" stroke="#111" stroke-width="0.25">S<tspan font-size="9" dy="-0.9">+</tspan><tspan dy="0.9">O</tspan></text>
<text x="313.5" y="135.9" font-size="11.5" text-anchor="middle" fill="#111" stroke="#111" stroke-width="0.25">L</text>
<text x="339.5" y="124.2" font-size="11.5" text-anchor="middle" fill="#111" letter-spacing="-0.3" stroke="#111" stroke-width="0.25">S<tspan font-size="9" dy="-0.9">+</tspan><tspan dy="0.9">O</tspan></text>
<text x="339.5" y="135.7" font-size="11.5" text-anchor="middle" fill="#111" stroke="#111" stroke-width="0.25">L</text>
<text x="351.8" y="141.5" font-size="11.5" text-anchor="middle" fill="#111" letter-spacing="-0.3" stroke="#111" stroke-width="0.25">S<tspan font-size="9" dy="-0.9">+</tspan><tspan dy="0.9">O</tspan></text>
<line x1="315.6" y1="123.4" x2="319.3" y2="131.5" stroke="#111" stroke-width="0.9"/>
<path d="M320.7,134.6 L317.2,131.3 L320.7,129.8 Z" fill="#111"/>
<path d="M50.3,295.7 L51.3,293.8 L52.5,290.1 L53.4,287.5 L54.0,285.0 L54.6,282.5 L55.1,280.0 L55.8,275.0 L56.4,270.0 L56.8,265.0 L56.9,248.2 L57.6,247.8 L57.9,241.0 L58.0,239.6 L58.1,241.0 L58.4,255.0 L58.7,265.0 L58.9,275.0 L59.5,283.0 L60.4,287.0 L61.2,288.8 L62.5,291.4 L63.5,289.6 L64.3,286.3 L65.0,290.1 L66.0,293.1 L67.0,294.7 L68.2,295.7Z M146.0,295.7 L147.5,294.3 L147.9,291.2 L147.9,280.2 L149.4,280.2 L150.0,277.0 L150.6,272.4 L151.8,275.5 L152.1,291.2 L152.5,294.3 L153.8,295.7Z M159.6,295.7 L161.2,294.3 L161.7,291.2 L161.8,274.3 L163.4,274.3 L164.4,278.3 L165.5,279.5 L166.4,280.6 L166.8,291.2 L167.2,294.3 L168.6,295.7Z M281.4,295.7 L283.2,295.2 L284.1,293.5 L284.6,290.1 L284.7,279.6 L285.5,279.2 L285.8,264.0 L285.9,263.3 L286.1,264.0 L286.4,276.6 L287.4,276.6 L287.8,290.1 L288.3,293.5 L289.2,295.2 L290.8,295.7Z M321.8,295.7 L323.2,295.2 L324.0,293.6 L324.4,291.2 L324.4,285.0 L324.7,264.2 L326.2,263.6 L326.6,241.0 L326.8,240.0 L326.9,241.0 L327.2,261.8 L328.4,262.2 L328.8,285.0 L328.9,291.2 L329.2,293.6 L330.0,295.2 L331.4,295.7Z M344.5,295.7 L345.6,294.3 L346.5,291.2 L347.2,285.0 L347.8,278.0 L348.3,272.0 L348.8,247.3 L349.7,247.0 L350.2,243.6 L350.6,243.0 L351.0,243.6 L351.2,264.0 L352.6,265.6 L353.1,275.0 L354.0,276.8 L354.5,282.0 L355.5,288.0 L356.5,292.9 L357.5,294.8 L359.0,295.7Z M447.5,295.7 L449.4,294.8 L450.2,292.8 L450.6,288.0 L450.8,275.0 L451.0,259.0 L451.7,258.2 L452.0,251.0 L452.1,175.0 L452.2,173.6 L452.4,175.0 L452.7,219.0 L453.7,219.6 L454.2,250.0 L454.6,268.0 L454.8,275.0 L455.0,289.1 L455.5,292.9 L456.4,294.7 L458.5,295.7Z" fill="#000" stroke="none"/>
<path d="M52.6,296.0 L53.8,291.0 L55.3,286.0 L56.3,281.0 L57.2,278.3 L58.0,277.3 L58.6,279.0 L59.0,283.5 L60.0,288.6 L61.2,291.6 L62.2,293.2 L62.8,296.0Z M149.3,296.0 L149.3,292.5 L150.2,291.2 L151.0,292.5 L151.0,296.0Z M163.6,296.0 L163.6,292.5 L164.5,291.2 L165.3,292.5 L165.3,296.0Z M285.4,296.5 L285.4,293.5 L286.2,288.0 L287.0,293.5 L287.0,296.5Z M325.5,296.5 L325.5,289.0 L326.7,284.2 L327.9,289.0 L327.9,296.5Z M347.6,296.0 L348.2,287.0 L349.0,280.0 L350.4,277.0 L352.6,277.4 L353.4,282.0 L354.3,288.0 L355.2,292.4 L356.0,296.0Z M451.6,296.0 L451.6,281.0 L452.7,272.5 L453.8,281.0 L453.9,296.0Z" fill="#fff" stroke="none"/>
<path d="M35.8,295.7 L50.3,295.7 L51.3,293.8 L52.5,290.1 L53.4,287.5 L54.0,285.0 L54.6,282.5 L55.1,280.0 L55.8,275.0 L56.4,270.0 L56.8,265.0 L56.9,248.2 L57.6,247.8 L57.9,241.0 L58.0,239.6 L58.1,241.0 L58.4,255.0 L58.7,265.0 L58.9,275.0 L59.5,283.0 L60.4,287.0 L61.2,288.8 L62.5,291.4 L63.5,289.6 L64.3,286.3 L65.0,290.1 L66.0,293.1 L67.0,294.7 L68.2,295.7 L146.0,295.7 L147.5,294.3 L147.9,291.2 L147.9,280.2 L149.4,280.2 L150.0,277.0 L150.6,272.4 L151.8,275.5 L152.1,291.2 L152.5,294.3 L153.8,295.7 L159.6,295.7 L161.2,294.3 L161.7,291.2 L161.8,274.3 L163.4,274.3 L164.4,278.3 L165.5,279.5 L166.4,280.6 L166.8,291.2 L167.2,294.3 L168.6,295.7 L281.4,295.7 L283.2,295.2 L284.1,293.5 L284.6,290.1 L284.7,279.6 L285.5,279.2 L285.8,264.0 L285.9,263.3 L286.1,264.0 L286.4,276.6 L287.4,276.6 L287.8,290.1 L288.3,293.5 L289.2,295.2 L290.8,295.7 L321.8,295.7 L323.2,295.2 L324.0,293.6 L324.4,291.2 L324.4,285.0 L324.7,264.2 L326.2,263.6 L326.6,241.0 L326.8,240.0 L326.9,241.0 L327.2,261.8 L328.4,262.2 L328.8,285.0 L328.9,291.2 L329.2,293.6 L330.0,295.2 L331.4,295.7 L344.5,295.7 L345.6,294.3 L346.5,291.2 L347.2,285.0 L347.8,278.0 L348.3,272.0 L348.8,247.3 L349.7,247.0 L350.2,243.6 L350.6,243.0 L351.0,243.6 L351.2,264.0 L352.6,265.6 L353.1,275.0 L354.0,276.8 L354.5,282.0 L355.5,288.0 L356.5,292.9 L357.5,294.8 L359.0,295.7 L368.0,295.7 L369.0,295.0 L369.5,294.2 L370.0,295.0 L371.0,295.7 L380.5,295.7 L382.6,295.1 L384.5,292.5 L385.8,285.5 L387.0,277.5 L388.0,272.8 L388.5,271.8 L389.0,272.8 L390.0,278.3 L391.2,287.0 L392.5,293.1 L394.5,295.2 L397.0,295.7 L400.0,295.5 L405.0,295.0 L406.3,293.9 L407.5,291.7 L408.5,285.0 L409.8,275.0 L410.6,265.0 L411.3,258.0 L412.8,240.0 L413.3,231.0 L413.8,200.0 L414.3,170.0 L415.0,140.0 L415.7,113.6 L416.0,140.0 L416.4,170.0 L416.8,200.0 L417.1,219.5 L417.9,200.0 L418.9,170.0 L419.6,141.6 L420.0,170.0 L420.4,200.0 L420.6,235.0 L420.9,265.0 L421.1,275.0 L421.6,285.0 L422.6,291.2 L424.0,293.5 L426.0,294.6 L430.0,295.2 L438.0,295.6 L445.0,295.7 L447.5,295.7 L449.4,294.8 L450.2,292.8 L450.6,288.0 L450.8,275.0 L451.0,259.0 L451.7,258.2 L452.0,251.0 L452.1,175.0 L452.2,173.6 L452.4,175.0 L452.7,219.0 L453.7,219.6 L454.2,250.0 L454.6,268.0 L454.8,275.0 L455.0,289.1 L455.5,292.9 L456.4,294.7 L458.5,295.7 L530.5,295.7 L531.0,295.0 L531.2,289.0 L531.3,289.0 L531.5,295.0 L532.0,295.7 L544.0,295.7" fill="none" stroke="#000" stroke-width="1.5" stroke-linejoin="round" stroke-linecap="butt"/>
<line x1="36.5" y1="300.2" x2="544.8" y2="300.2" stroke="#6a6a6a" stroke-width="0.7"/>
<path d="M540.5,300.2 v1.4 M531.6,300.2 v2.3 M522.7,300.2 v1.4 M513.9,300.2 v2.3 M505.0,300.2 v1.4 M496.2,300.2 v2.3 M487.3,300.2 v1.4 M478.4,300.2 v2.3 M469.6,300.2 v1.4 M460.7,300.2 v2.3 M451.8,300.2 v1.4 M443.0,300.2 v2.3 M434.1,300.2 v1.4 M425.3,300.2 v2.3 M416.4,300.2 v1.4 M407.5,300.2 v2.3 M398.7,300.2 v1.4 M389.8,300.2 v2.3 M380.9,300.2 v1.4 M372.1,300.2 v2.3 M363.2,300.2 v1.4 M354.4,300.2 v2.3 M345.5,300.2 v1.4 M336.6,300.2 v2.3 M327.8,300.2 v1.4 M318.9,300.2 v2.3 M310.1,300.2 v1.4 M301.2,300.2 v2.3 M292.3,300.2 v1.4 M283.5,300.2 v2.3 M274.6,300.2 v1.4 M265.7,300.2 v2.3 M256.9,300.2 v1.4 M248.0,300.2 v2.3 M239.2,300.2 v1.4 M230.3,300.2 v2.3 M221.4,300.2 v1.4 M212.6,300.2 v2.3 M203.7,300.2 v1.4 M194.8,300.2 v2.3 M186.0,300.2 v1.4 M177.1,300.2 v2.3 M168.3,300.2 v1.4 M159.4,300.2 v2.3 M150.5,300.2 v1.4 M141.7,300.2 v2.3 M132.8,300.2 v1.4 M123.9,300.2 v2.3 M115.1,300.2 v1.4 M106.2,300.2 v2.3 M97.4,300.2 v1.4 M88.5,300.2 v2.3 M79.6,300.2 v1.4 M70.8,300.2 v2.3 M61.9,300.2 v1.4 M53.1,300.2 v2.3 M44.2,300.2 v1.4" stroke="#555" stroke-width="0.8" fill="none"/>
<text x="534.3" y="325.4" font-size="17.4" text-anchor="middle" fill="#111" >0.0</text>
<text x="498.9" y="325.4" font-size="17.4" text-anchor="middle" fill="#111" >0.4</text>
<text x="463.5" y="325.4" font-size="17.4" text-anchor="middle" fill="#111" >0.8</text>
<text x="428.0" y="325.4" font-size="17.4" text-anchor="middle" fill="#111" >1.2</text>
<text x="392.6" y="325.4" font-size="17.4" text-anchor="middle" fill="#111" >1.6</text>
<text x="357.2" y="325.4" font-size="17.4" text-anchor="middle" fill="#111" >2.0</text>
<text x="321.8" y="325.4" font-size="17.4" text-anchor="middle" fill="#111" >2.4</text>
<text x="286.4" y="325.4" font-size="17.4" text-anchor="middle" fill="#111" >2.8</text>
<text x="250.9" y="325.4" font-size="17.4" text-anchor="middle" fill="#111" >3.2</text>
<text x="215.5" y="325.4" font-size="17.4" text-anchor="middle" fill="#111" >3.6</text>
<text x="180.1" y="325.4" font-size="17.4" text-anchor="middle" fill="#111" >4.0</text>
<text x="144.7" y="325.4" font-size="17.4" text-anchor="middle" fill="#111" >4.4</text>
<text x="109.3" y="325.4" font-size="17.4" text-anchor="middle" fill="#111" >4.8</text>
<text x="73.8" y="325.4" font-size="17.4" text-anchor="middle" fill="#111" >5.2</text>
<text x="293.3" y="343.4" font-size="17.5" text-anchor="middle" fill="#111" textLength="35.2" lengthAdjust="spacingAndGlyphs">ppm</text>
<text x="58" y="232.8" font-size="14" text-anchor="middle" fill="#111" >I</text>
<text x="67.4" y="279.6" font-size="14" text-anchor="middle" fill="#111" >H</text>
<text x="157.7" y="268.4" font-size="14" text-anchor="middle" fill="#111" >G</text>
<text x="287" y="257.8" font-size="14" text-anchor="middle" fill="#111" >F</text>
<text x="327.4" y="235.3" font-size="14" text-anchor="middle" fill="#111" >E</text>
<text x="351.6" y="237.9" font-size="14" text-anchor="middle" fill="#111" >D</text>
<text x="389.8" y="267" font-size="14" text-anchor="middle" fill="#111" >C</text>
<text x="416.5" y="104.7" font-size="14" text-anchor="middle" fill="#111" >B</text>
<text x="452.4" y="167.4" font-size="14" text-anchor="middle" fill="#111" >A</text>
</svg>
</body></html>
